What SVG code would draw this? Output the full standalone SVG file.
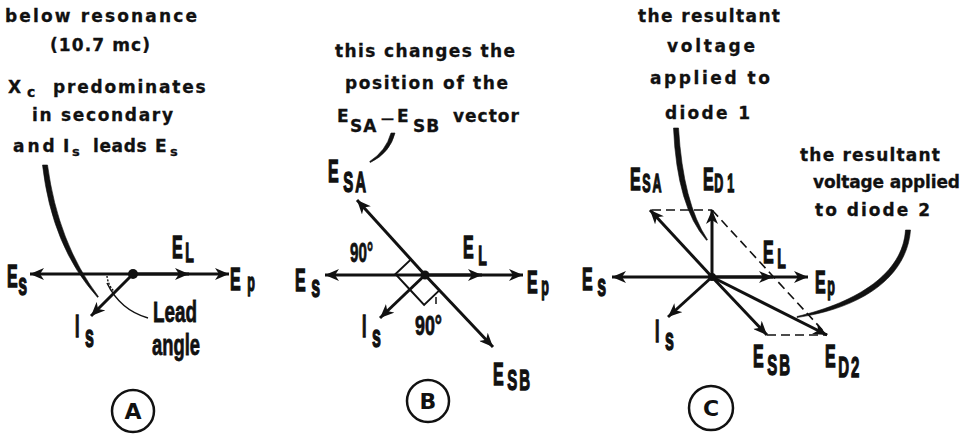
<svg xmlns="http://www.w3.org/2000/svg" width="970" height="435" viewBox="0 0 970 435">
<style>
.cap{font-family:"DejaVu Sans","Liberation Sans",sans-serif;font-weight:bold;font-size:17px;fill:#111;stroke:#111;stroke-width:0.3}
.lbl{font-family:"Liberation Sans",Arial,sans-serif;font-weight:bold;font-size:32px;fill:#111;stroke:#111;stroke-width:1.4}
.lt{font-family:"Liberation Sans",Arial,sans-serif;font-weight:bold;fill:#111;stroke:#111;stroke-width:0.8}
.vec{stroke:#111;stroke-width:3;fill:none;marker-end:url(#ah)}
.dash{stroke:#111;stroke-width:1.6;fill:none;stroke-dasharray:9 5}
.thin{stroke:#111;stroke-width:1.5;fill:none}
.lead{fill:#111;stroke:#111;stroke-width:0.6}
.ring{fill:none;stroke:#111;stroke-width:2.5}
.ltr{font-family:"DejaVu Sans","Liberation Sans",sans-serif;font-weight:bold;font-size:22px;fill:#111;text-anchor:middle}
</style>
<defs>
<marker id="ah" markerUnits="userSpaceOnUse" markerWidth="15" markerHeight="12" refX="14" refY="6" orient="auto">
<path d="M0,0 L14,6 L0,12 L4,6 Z" fill="#111"/>
</marker>
</defs>
<rect width="970" height="435" fill="#fff"/>

<g id="connectors">
<!-- Panel A -->
<line class="vec" x1="133" y1="274" x2="30" y2="274"/>
<line class="vec" x1="133" y1="274" x2="189" y2="274"/>
<line class="vec" x1="133" y1="274" x2="229" y2="274"/>
<line class="vec" x1="133" y1="274" x2="91" y2="316"/>
<path d="M107,276 A26,26 0 0,0 114.6,292" stroke="#111" stroke-width="1.4" fill="none" stroke-dasharray="2 1.5"/>
<path class="thin" d="M107,283 Q120,310 148,318"/>
<path class="lead" d="M42.5,165 Q52,247 97.6,297.4 L98.4,296.6 Q58,243 47.5,165 Z"/>
<!-- Panel B -->
<line class="vec" x1="425" y1="275" x2="325" y2="275"/>
<line class="vec" x1="425" y1="275" x2="482" y2="275"/>
<line class="vec" x1="425" y1="275" x2="523" y2="275"/>
<line class="vec" x1="425" y1="275" x2="357" y2="200"/>
<line class="vec" x1="425" y1="275" x2="493" y2="347"/>
<line class="vec" x1="425" y1="275" x2="380" y2="318"/>
<path d="M410.7,259.6 L395.5,274.1 L409.8,289.5 L424.1,304.9 L439.3,290.4" stroke="#111" stroke-width="2" fill="none"/>
<line x1="436" y1="297" x2="436" y2="304" stroke="#111" stroke-width="1.5"/>
<path class="lead" d="M391,133 Q386,151 369.7,161.5 L370.3,162.5 Q390,153 395,133 Z"/>
<!-- Panel C -->
<line class="vec" x1="712" y1="277" x2="612" y2="277"/>
<line class="vec" x1="712" y1="277" x2="773" y2="277"/>
<line class="vec" x1="712" y1="277" x2="808" y2="277"/>
<line class="vec" x1="712" y1="277" x2="650" y2="210"/>
<line class="vec" x1="712" y1="277" x2="712" y2="210"/>
<line class="vec" x1="712" y1="277" x2="767" y2="335"/>
<line class="vec" x1="712" y1="277" x2="827" y2="335"/>
<line class="vec" x1="712" y1="277" x2="668" y2="317"/>
<path class="dash" d="M652,210 L712,210"/>
<path class="dash" d="M712,210 L827,335"/>
<path class="dash" d="M767,335 L827,335"/>
<path class="lead" d="M673.5,128 Q677,207 706.5,240.3 L707.5,239.7 Q683,203 678.5,128 Z"/>
<path class="lead" d="M905.5,230 C903,273 858,302 797,316.5 L797,317.5 C862,308 907,277 910.5,230 Z"/>
</g>

<g id="panelA">
<circle cx="133" cy="274" r="5" fill="#111"/>
<text class="cap" x="5" y="22" textLength="192">below resonance</text>
<text class="cap" x="50" y="51" textLength="100">(10.7 mc)</text>
<text class="cap"><tspan x="8" y="93">X</tspan><tspan x="27" y="97" font-size="14">c</tspan><tspan x="53" y="93" letter-spacing="1.8">predominates</tspan></text>
<text class="cap" x="32" y="121" textLength="141">in secondary</text>
<text class="cap"><tspan x="13" y="152" letter-spacing="3">and</tspan> <tspan x="63" y="152">I</tspan><tspan x="72" y="156" font-size="13">s</tspan> <tspan x="93" y="152" letter-spacing="0.6">leads</tspan> <tspan x="155" y="152">E</tspan><tspan x="170" y="156" font-size="13">s</tspan></text>
<text class="lbl" transform="translate(7,287) scale(0.5,1)">E<tspan dx="1" dy="8">s</tspan></text>
<text class="lbl" transform="translate(172,258) scale(0.5,1)">E<tspan dx="5" dy="4" font-size="28">L</tspan></text>
<text class="lbl" transform="translate(230,290) scale(0.5,1)">E<tspan dx="13" dy="1" font-size="25">p</tspan></text>
<text class="lbl" transform="translate(75,337) scale(0.5,1)">I<tspan dx="11" dy="10">s</tspan></text>
<text class="lt" x="153" y="322" font-size="30" textLength="44" lengthAdjust="spacingAndGlyphs">Lead</text>
<text class="lt" x="152" y="355" font-size="30" textLength="48" lengthAdjust="spacingAndGlyphs">angle</text>
<circle class="ring" cx="133" cy="411" r="21"/>
<text class="ltr" x="133" y="419">A</text>
</g>

<g id="panelB">
<circle cx="425" cy="275" r="4.5" fill="#111"/>
<text class="cap" x="335" y="57" textLength="180">this changes the</text>
<text class="cap" x="345" y="89" textLength="163">position of the</text>
<text class="cap" letter-spacing="1"><tspan x="337" y="122">E</tspan><tspan x="350" y="132">SA</tspan><tspan x="381" y="123" font-size="13" letter-spacing="0">—</tspan><tspan x="397" y="122">E</tspan><tspan x="413" y="132">SB</tspan> <tspan x="453" y="122" letter-spacing="1">vector</tspan></text>
<text class="lbl" transform="translate(328,182) scale(0.5,1)">E<tspan dx="9" dy="10" font-size="30" letter-spacing="4">SA</tspan></text>
<text class="lt" x="350" y="262" font-size="28" textLength="23" lengthAdjust="spacingAndGlyphs">90°</text>
<text class="lbl" transform="translate(463,258) scale(0.5,1)">E<tspan dx="9" dy="7" font-size="28">L</tspan></text>
<text class="lbl" transform="translate(295,291) scale(0.5,1)">E<tspan dx="11" dy="6">s</tspan></text>
<text class="lbl" transform="translate(527,293) scale(0.5,1)">E<tspan dx="7" dy="2" font-size="25">p</tspan></text>
<text class="lbl" transform="translate(362,337) scale(0.5,1)">I<tspan dx="11" dy="10">s</tspan></text>
<text class="lt" x="415" y="335" font-size="28" textLength="27" lengthAdjust="spacingAndGlyphs">90°</text>
<text class="lbl" transform="translate(493,385) scale(0.5,1)">E<tspan dx="7" dy="5" font-size="30" letter-spacing="4">SB</tspan></text>
<circle class="ring" cx="428" cy="401" r="21"/>
<text class="ltr" x="428" y="409">B</text>
</g>

<g id="panelC">
<circle cx="712" cy="277" r="4" fill="#111"/>
<text class="cap" x="638" y="22" textLength="142">the resultant</text>
<text class="cap" x="667" y="52" textLength="88">voltage</text>
<text class="cap" x="650" y="84" textLength="120">applied to</text>
<text class="cap" x="665" y="119" textLength="85">diode 1</text>
<text class="cap" x="800" y="161" textLength="140">the resultant</text>
<text class="cap" x="813" y="188" textLength="147">voltage applied</text>
<text class="cap" x="815" y="216" textLength="115">to diode 2</text>
<text class="lbl" transform="translate(630,190) scale(0.5,1)">E<tspan dx="3" dy="2" font-size="25" letter-spacing="4">SA</tspan></text>
<text class="lbl" transform="translate(703,190) scale(0.5,1)">E<tspan dx="1" dy="2" font-size="25" letter-spacing="8">D1</tspan></text>
<text class="lbl" transform="translate(763,263) scale(0.5,1)">E<tspan dx="7" dy="5" font-size="28">L</tspan></text>
<text class="lbl" transform="translate(815,293) scale(0.5,1)">E<tspan dx="3" dy="2" font-size="25">p</tspan></text>
<text class="lbl" transform="translate(582,290) scale(0.5,1)">E<tspan dx="9" dy="6">s</tspan></text>
<text class="lbl" transform="translate(655,342) scale(0.5,1)">I<tspan dx="11" dy="8">s</tspan></text>
<text class="lbl" transform="translate(753,367) scale(0.5,1)">E<tspan dx="7" dy="8" font-size="30" letter-spacing="4">SB</tspan></text>
<text class="lbl" transform="translate(825,367) scale(0.5,1)">E<tspan dx="5" dy="10" font-size="30" letter-spacing="4">D2</tspan></text>
<circle class="ring" cx="711" cy="408" r="22"/>
<text class="ltr" x="711" y="416">C</text>
</g>
</svg>
